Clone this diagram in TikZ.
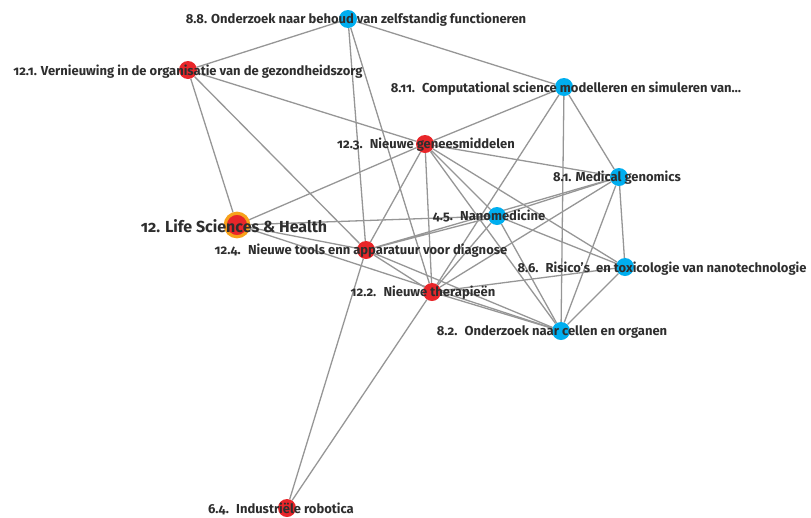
\documentclass[tikz,border=0pt]{standalone}
\usepackage{fontspec}
\setmainfont{Fira Sans}[Numbers=OldStyle]
\usepackage{tikz}
\usetikzlibrary{calc}
\pgfdeclarelayer{background}
\pgfsetlayers{background,main}
\definecolor{dotred}{HTML}{E8262A}
\definecolor{dotblue}{HTML}{00AEEF}
\definecolor{ringorange}{HTML}{F7A21B}
\definecolor{edgegray}{HTML}{969696}
\definecolor{textgray}{HTML}{2E2E2E}

\begin{document}
\begin{tikzpicture}[
    x=1pt, y=-1pt,
    edge/.style={edgegray, line width=1.3pt},
    red dot/.style={circle, fill=dotred, inner sep=0pt, minimum size=18pt},
    blue dot/.style={circle, fill=dotblue, inner sep=0pt, minimum size=18pt},
    main dot/.style={circle, fill=dotred, draw=ringorange, line width=3.2pt, inner sep=0pt, minimum size=23.5pt},
    topic/.style={anchor=base, inner sep=0pt, text=textgray, font=\bfseries\fontsize{13}{15}\selectfont},
    main topic/.style={topic, font=\bfseries\fontsize{16}{18}\selectfont}
    ]
    \useasboundingbox (0,0) rectangle (811,517);

    % dots
    \node[blue dot] (n88)  at (348,19)  {};
    \node[red dot]  (n121) at (188,70)  {};
    \node[blue dot] (n811) at (564,87)  {};
    \node[red dot]  (n123) at (425,144) {};
    \node[blue dot] (n81)  at (619,177) {};
    \node[blue dot] (n45)  at (497,216) {};
    \node[main dot] (n12)  at (237,225) {};
    \node[red dot]  (n124) at (366,250) {};
    \node[blue dot] (n86)  at (625,267) {};
    \node[red dot]  (n122) at (432,292) {};
    \node[blue dot] (n82)  at (561,331) {};
    \node[red dot]  (n64)  at (287,508) {};

    % edges
    \begin{pgfonlayer}{background}
    \draw[edge] (n88) -- (n121) (n88) -- (n811) (n88) -- (n124) (n88) -- (n122);
    \draw[edge] (n121) -- (n123) (n121) -- (n12) (n121) -- (n124);
    \draw[edge] (n811) -- (n123) (n811) -- (n122) (n811) -- (n81) (n811) -- (n82);
    \draw[edge] (n123) -- (n12) (n123) -- (n124) (n123) -- (n122) (n123) -- (n81);
    \draw[edge] (n123) -- (n45) (n123) -- (n86) (n123) -- (n82);
    \draw[edge] (n12) -- (n45) (n12) -- (n124) (n12) -- (n82);
    \draw[edge] (n124) -- (n45) (n124) -- (n81) (n124) -- (n122) (n124) -- (n82) (n124) -- (n64);
    \draw[edge] (n122) -- (n45) (n122) -- (n81) (n122) -- (n86) (n122) -- (n82) (n122) -- (n64);
    \draw[edge] (n45) -- (n81) (n45) -- (n86) (n45) -- (n82);
    \draw[edge] (n81) -- (n86) (n81) -- (n82) (n86) -- (n82);
    \end{pgfonlayer}

    % labels
    \node[topic] (t88)  at (356,23)  {8.8. Onderzoek naar behoud van zelfstandig functioneren};
    \node[topic] (t121) at (188,75)  {12.1. Vernieuwing in de organisatie van de gezondheidszorg};
    \node[topic] (t811) at (566,92)  {8.11.~ Computational science modelleren en simuleren van…};
    \node[topic] (t123) at (426,148) {12.3.~ Nieuwe geneesmiddelen};
    \node[topic] (t81)  at (617,181) {8.1. Medical genomics};
    \node[main topic] (t12) at (234,232) {12. Life Sciences \& Health};
    \node[topic] (t45)  at (489,220) {4.5.~ Nanomedicine};
    \node[topic] (t124) at (361,254) {12.4.~ Nieuwe tools enn apparatuur voor diagnose};
    \node[topic] (t86)  at (662,272) {8.6.~ Risico’s~ en toxicologie van nanotechnologie};
    \node[topic] (t122) at (423,296) {12.2.~ Nieuwe therapieën};
    \node[topic] (t82)  at (552,335) {8.2.~ Onderzoek naar cellen en organen};
    \node[topic] (t64)  at (281,513) {6.4.~ Industriële robotica};

\end{tikzpicture}
\end{document}
